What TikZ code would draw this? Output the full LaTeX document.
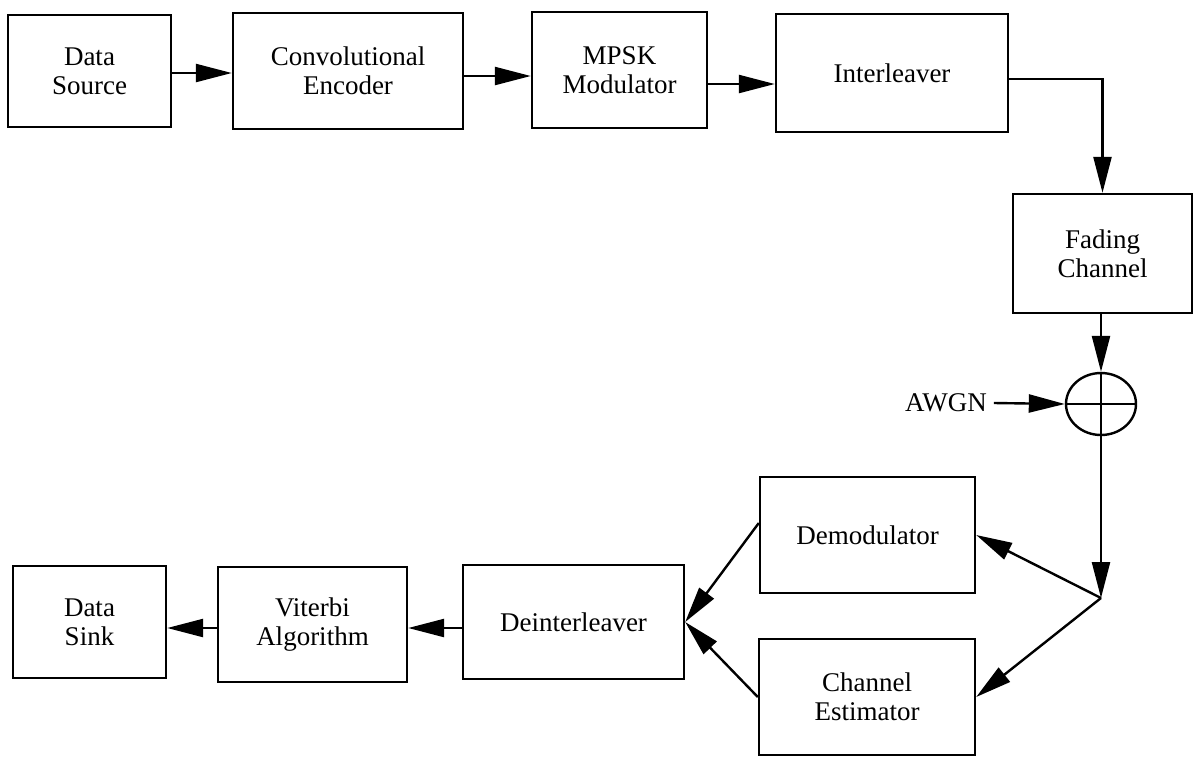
\documentclass[tikz,border=0pt]{standalone}
\usepackage{fontspec}
\setmainfont{Liberation Serif}
\usetikzlibrary{arrows.meta,shapes.geometric}
\tikzset{
  blk/.style={draw, line width=1.2pt, rectangle, align=center, inner sep=0pt,
              font=\fontsize{13.5}{14.3}\selectfont},
  lbl/.style={font=\fontsize{13.5}{14.3}\selectfont},
  arr/.style={line width=1.2pt, -{Triangle[length=18pt,width=9pt]}},
  ln/.style={line width=1.2pt},
}
\begin{document}
\begin{tikzpicture}[x=0.5pt,y=-0.5pt]
\fill[white] (0,0) rectangle (1196,757);
\useasboundingbox (0,0) rectangle (1196,757);
% top row
\node[blk, minimum width=81.5pt, minimum height=56pt] (src)  at (89.5,71)  {Data\\Source};
\node[blk, minimum width=115pt,  minimum height=58pt] (enc)  at (348,71)   {Convolutional\\Encoder};
\node[blk, minimum width=87.5pt, minimum height=58pt] (mod)  at (619.5,70) {MPSK\\Modulator};
\node[blk, minimum width=116pt,  minimum height=59pt] (intl) at (892,73)   {Interleaver};
% channel
\node[blk, minimum width=89.5pt, minimum height=59.5pt] (fade) at (1102.5,253.5) {Fading\\Channel};
\node[draw, line width=1.2pt, ellipse, minimum width=35pt, minimum height=31pt, inner sep=0pt] (sum) at (1101,404) {};
\node[lbl] (awgn) at (946,403) {AWGN};
% receiver
\node[blk, minimum width=107.5pt, minimum height=58pt] (demod) at (867.5,535) {Demodulator};
\node[blk, minimum width=108pt,   minimum height=58pt] (chest) at (867,697)   {Channel\\Estimator};
\node[blk, minimum width=110.5pt, minimum height=57pt] (deint) at (573.5,622) {Deinterleaver};
\node[blk, minimum width=94.5pt,  minimum height=57.5pt] (vit) at (312.5,624.5) {Viterbi\\Algorithm};
\node[blk, minimum width=76.5pt,  minimum height=56pt] (sink) at (89.5,622)  {Data\\Sink};
% coordinates
\coordinate (s1) at ([yshift=-1pt]src.east);
\coordinate (e1) at ([yshift=-2.5pt]enc.east);
\coordinate (m1) at ([yshift=-7pt]mod.east);
\coordinate (i1) at ([yshift=-3pt]intl.east);
\coordinate (J) at (1101,598);
\coordinate (d1) at ([yshift=6pt]demod.west);
\coordinate (k1) at ([yshift=-3pt]deint.west);
\coordinate (v1) at ([yshift=-1.75pt]vit.west);
% cross in summer
\draw[ln] (sum.north) -- (sum.south) (sum.west) -- (sum.east);
% connectors
\draw[arr] (s1) -- (s1 -| enc.west);
\draw[arr] (e1) -- (e1 -| mod.west);
\draw[arr] (m1) -- (m1 -| intl.west);
\draw[arr] (i1) -| (fade.north);
\draw[arr] (fade.south -| sum.north) -- (sum.north);
\draw[arr] (awgn.east) -- (sum.west);
\draw[arr] (sum.south) -- (J);
\draw[arr] (J) -- (demod.east);
\draw[arr] (J) -- (chest.east);
\draw[arr] (d1) -- (deint.east);
\draw[arr] (chest.west) -- (deint.east);
\draw[arr] (k1) -- (k1 -| vit.east);
\draw[arr] (v1) -- (v1 -| sink.east);
\end{tikzpicture}
\end{document}
